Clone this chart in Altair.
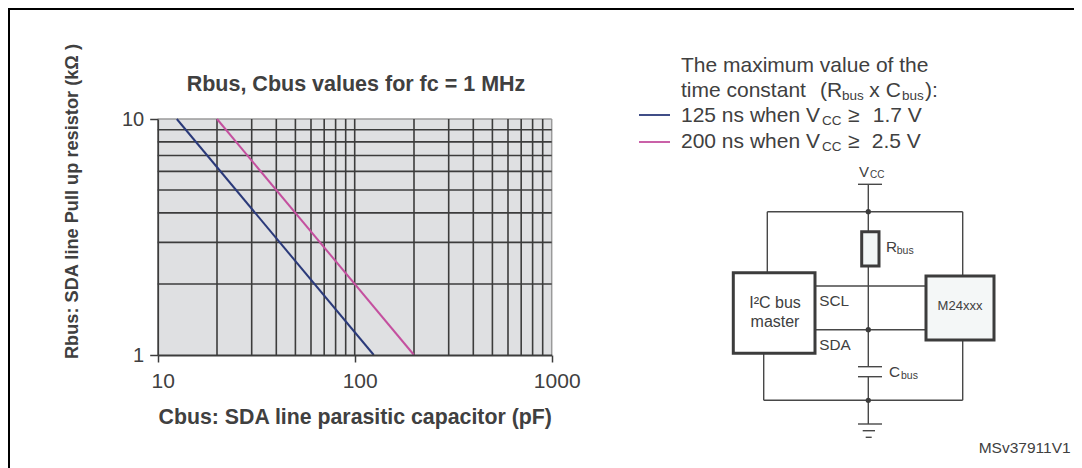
import altair as alt
import pandas as pd

# --- chart values ---
grid_c = [20, 30, 40, 50, 60, 70, 80, 90, 100, 200, 300, 400, 500, 600, 700, 800, 900]
grid_r = [2, 3, 4, 5, 6, 7, 8, 9]
c_ticks = [10, 100, 1000]
r_ticks = [1, 10]
series_names = ["125 ns when VCC >= 1.7 V", "200 ns when VCC >= 2.5 V"]
series_colors = ["#2b3a7a", "#c4509f"]
c_125 = [12.5, 125]
r_125 = [10, 1]
c_200 = [20, 200]
r_200 = [10, 1]

TEXT = "#404040"
GRID = "#3c3c3c"
WIRE = "#484848"
W, H = 1066, 460

# --- screen-like scales for the annotation panel ---
PX = alt.Scale(domain=[8, 8 + W], range=[0, W])
PY = alt.Scale(domain=[8, 8 + H], range=[0, H])
XS = alt.Scale(type="log", domain=[10, 1000], range=[149.7, 543.7])
YS = alt.Scale(type="log", domain=[1, 10], range=[347, 111])

# --- schematic: x1, y1, x2, y2 ---
frame = [(9, 8, 9, 468), (8, 9, 1082, 9)]
wires = [
    (868.3, 184, 868.3, 367), (868.3, 377, 868.3, 424),
    (767.3, 211.7, 962.7, 211.7), (767.3, 211.7, 767.3, 273), (962.7, 211.7, 962.7, 276),
    (815, 286, 926, 286), (815, 329.7, 926, 329.7),
    (763.7, 400.3, 962.7, 400.3), (763.7, 353, 763.7, 400.3), (962.7, 340, 962.7, 400.3),
    (858, 184.3, 882, 184.3), (858, 366.7, 882, 366.7), (858, 376.7, 882, 376.7),
    (858, 424, 882, 424), (862.7, 430.7, 875, 430.7), (865.7, 437.3, 871.7, 437.3),
]
legend_lines = [(639, 115, 670, 115, series_names[0]), (639, 142, 670, 142, series_names[1])]
dots = [(868.3, 211.7), (868.3, 329.7), (868.3, 400.3)]
boxes = [
    (733.3, 272.7, 815, 353.3, "#ffffff"),
    (926, 276, 994, 340, "#f4f7f7"),
    (861.7, 231.7, 879, 266, "#f2f6f6"),
]

# --- text: x, baseline y, string, size ---
left_text = [
    (681, 72, "The maximum value of the", 21),
    (681, 97, "time constant", 21),
    (820, 97, "(R", 21),
    (842, 100, "bus", 13.5),
    (869.3, 97, "x C", 21),
    (902, 100, "bus", 13.5),
    (925, 97, "):", 21),
    (681, 122, "125 ns when V", 21),
    (822, 125, "CC", 13.5),
    (848, 122, "≥", 21),
    (872.7, 122, "1.7 V", 21),
    (681, 148, "200 ns when V", 21),
    (822, 151, "CC", 13.5),
    (848, 148, "≥", 21),
    (871.7, 148, "2.5 V", 21),
    (859, 176.7, "V", 15),
    (870, 177.5, "CC", 10),
    (819.3, 305.7, "SCL", 15.3),
    (819.3, 350, "SDA", 15.3),
    (886, 252.3, "R", 15.3),
    (896.7, 254, "bus", 10.5),
    (889, 377.3, "C", 15.3),
    (901, 379, "bus", 10.5),
    (978.7, 452.7, "MSv37911V1", 15.5),
]
center_text = [
    (775, 308.3, "I²C bus", 16),
    (775, 326.7, "master", 16),
    (960, 310, "M24xxx", 13),
]
title_text = [(356, 91, "Rbus, Cbus values for fc = 1 MHz", 21.5)]

FONT = "Liberation Sans"

AX = alt.Axis(
    values=c_ticks, format="d", offset=-(H - 347), grid=False, title="Cbus: SDA line parasitic capacitor (pF)",
    zindex=2, tickSize=7, tickColor=GRID, tickWidth=1.5, domainColor=GRID, domainWidth=1.8,
    labelFont=FONT, labelFontSize=21, labelColor=TEXT, labelPadding=8, labelOffset=5, labelFlush=False,
    labelOverlap=False,
    titleFont=FONT, titleFontSize=21.3, titleFontWeight="bold", titleColor=TEXT,
    titleX=346.7, titleY=68, titleBaseline="alphabetic", titleAnchor="middle",
)
AY = alt.Axis(
    values=r_ticks, format="d", offset=-149.7, grid=False, title="Rbus: SDA line Pull up resistor (kΩ )",
    zindex=2, tickSize=8, tickColor=GRID, tickWidth=1.5, domainColor=GRID, domainWidth=1.8,
    labelFont=FONT, labelFontSize=20, labelColor=TEXT, labelPadding=6, labelOverlap=False,
    labelFlush=False,
    titleFont=FONT, titleFontSize=18.2, titleFontWeight="bold", titleColor=TEXT,
    titleX=-85, titleY=193, titleAngle=270, titleBaseline="middle", titleAnchor="middle",
)


def seg(rows):
    return pd.DataFrame(rows, columns=["x", "y", "x2", "y2"])


def rule_px(df, width, color):
    return alt.Chart(df).mark_rule(strokeWidth=width, color=color).encode(
        x=alt.X("x:Q", scale=PX, axis=None),
        x2="x2:Q",
        y=alt.Y("y:Q", scale=PY, axis=None),
        y2="y2:Q",
    )


def text_px(rows, align="left", weight="normal"):
    df = pd.DataFrame(rows, columns=["x", "y", "t", "s"])
    return alt.Chart(df).mark_text(
        align=align, baseline="alphabetic", font=FONT, fontWeight=weight, color=TEXT
    ).encode(
        x=alt.X("x:Q", scale=PX, axis=None),
        y=alt.Y("y:Q", scale=PY, axis=None),
        text="t:N",
        size=alt.Size("s:Q", scale=None, legend=None),
    )


# --- log chart ---
plot_bg = alt.Chart(pd.DataFrame({"x": [10], "x2": [1000], "y": [1], "y2": [10]})).mark_rect(color="#dfe0e2").encode(
    x=alt.X("x:Q", scale=XS, axis=AX),
    x2="x2:Q",
    y=alt.Y("y:Q", scale=YS, axis=AY),
    y2="y2:Q",
)


def rule_log(rows, width, color):
    df = pd.DataFrame(rows, columns=["x", "y", "x2", "y2"])
    return alt.Chart(df).mark_rule(strokeWidth=width, color=color).encode(
        x=alt.X("x:Q", scale=XS, axis=AX),
        x2="x2:Q",
        y=alt.Y("y:Q", scale=YS, axis=AY),
        y2="y2:Q",
    )


edge = rule_log([(10, 10, 1000, 10), (1000, 1, 1000, 10)], 1.5, "#9a9a9a")
grid_lines = rule_log(
    [(c, 1, c, 10) for c in grid_c] + [(10, r, 1000, r) for r in grid_r], 1.6, GRID
)

curve_df = pd.DataFrame(
    {
        "c": c_125 + c_200,
        "r": r_125 + r_200,
        "s": [series_names[0]] * len(c_125) + [series_names[1]] * len(c_200),
    }
)
color_scale = alt.Scale(domain=series_names, range=series_colors)
curves = alt.Chart(curve_df).mark_line(strokeWidth=2).encode(
    x=alt.X("c:Q", scale=XS, axis=AX),
    y=alt.Y("r:Q", scale=YS, axis=AY),
    color=alt.Color("s:N", scale=color_scale, legend=None),
)

plot = alt.layer(plot_bg, edge, grid_lines, curves)

# --- annotation panel ---
legend_df = pd.DataFrame(legend_lines, columns=["x", "y", "x2", "y2", "s"])
legend_marks = alt.Chart(legend_df).mark_rule(strokeWidth=1.8).encode(
    x=alt.X("x:Q", scale=PX, axis=None),
    x2="x2:Q",
    y=alt.Y("y:Q", scale=PY, axis=None),
    y2="y2:Q",
    color=alt.Color("s:N", scale=color_scale, legend=None),
)

box_df = pd.DataFrame(boxes, columns=["x", "y", "x2", "y2", "fill"])
box_marks = alt.Chart(box_df).mark_rect(stroke=GRID, strokeWidth=3).encode(
    x=alt.X("x:Q", scale=PX, axis=None),
    x2="x2:Q",
    y=alt.Y("y:Q", scale=PY, axis=None),
    y2="y2:Q",
    fill=alt.Fill("fill:N", scale=None),
)
dot_df = pd.DataFrame(dots, columns=["x", "y"])
dot_marks = alt.Chart(dot_df).mark_circle(size=28, color=GRID, opacity=1).encode(
    x=alt.X("x:Q", scale=PX, axis=None),
    y=alt.Y("y:Q", scale=PY, axis=None),
)

panel = alt.layer(
    rule_px(seg(frame), 2, "#000000"),
    legend_marks,
    rule_px(seg(wires), 1.4, WIRE),
    box_marks,
    dot_marks,
    text_px(left_text),
    text_px(center_text, align="center"),
    text_px(title_text, align="center", weight="bold"),
)

chart = (
    alt.layer(plot, panel)
    .resolve_scale(x="independent", y="independent")
    .resolve_axis(x="independent", y="independent")
    .properties(width=W, height=H, padding=0, autosize=alt.AutoSizeParams(type="none"), background="#ffffff")
    .configure_view(stroke=None)
)

chart.save("out.html", embed_options={"renderer": "svg", "actions": False})
